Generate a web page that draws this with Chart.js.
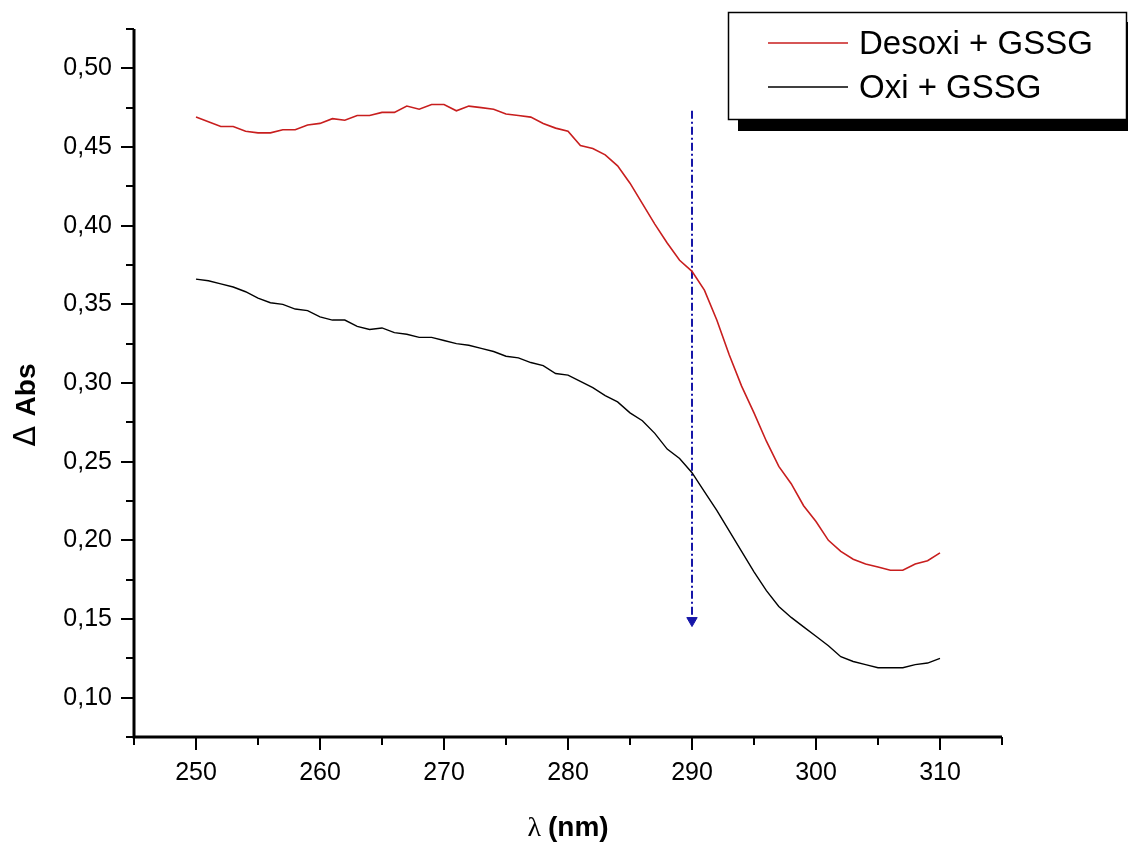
<!DOCTYPE html>
<html>
<head>
<meta charset="utf-8">
<script src="https://cdn.jsdelivr.net/npm/chart.js@4/dist/chart.umd.min.js"></script>
<style>
  html, body { margin: 0; padding: 0; background: #fff; }
</style>
</head>
<body>
<canvas id="chart" width="1128" height="843"></canvas>
<script>
// wavelength (nm)
const wavelengths = [
  250, 251, 252, 253, 254, 255, 256, 257, 258, 259,
  260, 261, 262, 263, 264, 265, 266, 267, 268, 269,
  270, 271, 272, 273, 274, 275, 276, 277, 278, 279,
  280, 281, 282, 283, 284, 285, 286, 287, 288, 289,
  290, 291, 292, 293, 294, 295, 296, 297, 298, 299,
  300, 301, 302, 303, 304, 305, 306, 307, 308, 309, 310,
];

// Desoxi + GSSG (red)
const desoxiGSSG = [
  0.469, 0.466, 0.463, 0.463, 0.460, 0.459, 0.459, 0.461, 0.461, 0.464,
  0.465, 0.468, 0.467, 0.470, 0.470, 0.472, 0.472, 0.476, 0.474, 0.477,
  0.477, 0.473, 0.476, 0.475, 0.474, 0.471, 0.470, 0.469, 0.465, 0.462,
  0.460, 0.451, 0.449, 0.445, 0.438, 0.427, 0.414, 0.401, 0.389, 0.378,
  0.371, 0.359, 0.340, 0.318, 0.298, 0.281, 0.263, 0.247, 0.236, 0.222,
  0.212, 0.200, 0.193, 0.188, 0.185, 0.183, 0.181, 0.181, 0.185, 0.187, 0.192,
];

// Oxi + GSSG (black)
const oxiGSSG = [
  0.366, 0.365, 0.363, 0.361, 0.358, 0.354, 0.351, 0.350, 0.347, 0.346,
  0.342, 0.340, 0.340, 0.336, 0.334, 0.335, 0.332, 0.331, 0.329, 0.329,
  0.327, 0.325, 0.324, 0.322, 0.320, 0.317, 0.316, 0.313, 0.311, 0.306,
  0.305, 0.301, 0.297, 0.292, 0.288, 0.281, 0.276, 0.268, 0.258, 0.252,
  0.243, 0.231, 0.219, 0.206, 0.193, 0.180, 0.168, 0.158, 0.151, 0.145,
  0.139, 0.133, 0.126, 0.123, 0.121, 0.119, 0.119, 0.119, 0.121, 0.122, 0.125,
];

// dash-dot arrow at 290 nm
const arrowX = [290, 290];
const arrowY = [0.473, 0.149];

const xTicks = [250, 260, 270, 280, 290, 300, 310];
const xMinorTicks = [245, 255, 265, 275, 285, 295, 305, 315];
const yTicks = [0.10, 0.15, 0.20, 0.25, 0.30, 0.35, 0.40, 0.45, 0.50];
const yMinorTicks = [0.075, 0.125, 0.175, 0.225, 0.275, 0.325, 0.375, 0.425, 0.475, 0.525];

const legendItems = [
  { label: "Desoxi + GSSG", color: "#c81e1e" },
  { label: "Oxi + GSSG", color: "#000000" },
];

const toPoints = (xs, ys) => xs.map((x, i) => ({ x: x, y: ys[i] }));

// draws two text pieces (normal + bold) centred on 0
function mixedTitle(ctx, first, firstFont, second, secondFont) {
  ctx.font = firstFont;
  const w1 = ctx.measureText(first).width;
  ctx.font = secondFont;
  const w2 = ctx.measureText(second).width;
  const start = -(w1 + w2) / 2;
  ctx.font = firstFont;
  ctx.fillText(first, start, 0);
  ctx.font = secondFont;
  ctx.fillText(second, start + w1, 0);
}

// axes, ticks, titles and the boxed legend are drawn by hand
const decorations = {
  id: "decorations",
  afterDraw(chart) {
    const ctx = chart.ctx;
    const xs = chart.scales.x;
    const ys = chart.scales.y;
    const area = chart.chartArea;

    ctx.save();
    ctx.strokeStyle = "#000";
    ctx.lineCap = "butt";

    // axis lines
    ctx.lineWidth = 3;
    ctx.beginPath();
    ctx.moveTo(area.left, area.top);
    ctx.lineTo(area.left, area.bottom);
    ctx.lineTo(area.right, area.bottom);
    ctx.stroke();

    ctx.lineWidth = 2;
    ctx.beginPath();
    xTicks.forEach((v) => {
      const px = Math.round(xs.getPixelForValue(v));
      ctx.moveTo(px, area.bottom);
      ctx.lineTo(px, area.bottom + 13);
    });
    xMinorTicks.forEach((v) => {
      const px = Math.round(xs.getPixelForValue(v));
      ctx.moveTo(px, area.bottom);
      ctx.lineTo(px, area.bottom + 8);
    });
    yTicks.forEach((v) => {
      const py = Math.round(ys.getPixelForValue(v));
      ctx.moveTo(area.left, py);
      ctx.lineTo(area.left - 13, py);
    });
    yMinorTicks.forEach((v) => {
      const py = Math.round(ys.getPixelForValue(v));
      ctx.moveTo(area.left, py);
      ctx.lineTo(area.left - 8, py);
    });
    ctx.stroke();

    ctx.fillStyle = "#000";
    ctx.textBaseline = "alphabetic";
    ctx.textAlign = "left";

    // x title: "λ (nm)"
    ctx.save();
    ctx.translate(568, 836);
    mixedTitle(ctx, "λ ", "28px 'Liberation Serif'", "(nm)", "bold 28px 'Liberation Sans'");
    ctx.restore();

    // y title: "Δ Abs"
    ctx.save();
    ctx.translate(35, 405);
    ctx.rotate(-Math.PI / 2);
    mixedTitle(ctx, "Δ ", "30px 'DejaVu Sans'", "Abs", "bold 28px 'Liberation Sans'");
    ctx.restore();

    // legend box with drop shadow
    ctx.fillStyle = "#000";
    ctx.fillRect(738, 22, 400, 109);
    ctx.fillStyle = "#fff";
    ctx.fillRect(728, 12, 399, 108);
    ctx.lineWidth = 1.5;
    ctx.strokeStyle = "#000";
    ctx.strokeRect(728.5, 12.5, 398, 107);

    ctx.font = "33px 'Liberation Sans'";
    ctx.textBaseline = "middle";
    legendItems.forEach((item, i) => {
      const ly = 43 + i * 44;
      ctx.strokeStyle = item.color;
      ctx.lineWidth = 1.5;
      ctx.beginPath();
      ctx.moveTo(768, ly);
      ctx.lineTo(848, ly);
      ctx.stroke();
      ctx.fillStyle = "#000";
      ctx.fillText(item.label, 859, ly + 2);
    });

    ctx.restore();
  },
};

const tickFont = { family: "'Liberation Sans', Arial, sans-serif", size: 25 };

new Chart(document.getElementById("chart").getContext("2d"), {
  type: "line",
  data: {
    datasets: [
      {
        label: "Desoxi + GSSG",
        data: toPoints(wavelengths, desoxiGSSG),
        borderColor: "#c81e1e",
        borderWidth: 1.6,
        pointRadius: 0,
        tension: 0,
      },
      {
        label: "Oxi + GSSG",
        data: toPoints(wavelengths, oxiGSSG),
        borderColor: "#000000",
        borderWidth: 1.4,
        pointRadius: 0,
        tension: 0,
      },
      {
        label: "arrow",
        data: toPoints(arrowX, arrowY),
        borderColor: "#1616a8",
        backgroundColor: "#1616a8",
        borderWidth: 2,
        borderDash: [8, 3, 2, 3],
        pointStyle: "triangle",
        rotation: 180,
        pointRadius: [0, 6],
        pointBorderWidth: 1,
        tension: 0,
      },
    ],
  },
  options: {
    responsive: false,
    animation: false,
    devicePixelRatio: 1,
    layout: { padding: { top: 29, right: 126, left: 0, bottom: 0 } },
    plugins: {
      legend: { display: false },
      tooltip: { enabled: false },
    },
    scales: {
      x: {
        type: "linear",
        min: 245,
        max: 315,
        grid: { display: false },
        border: { display: false },
        afterBuildTicks: (s) => { s.ticks = xTicks.map((v) => ({ value: v })); },
        afterFit: (s) => {
          s.height = 106;
          s.paddingLeft = 0;
          s.paddingRight = 0;
        },
        ticks: {
          autoSkip: false,
          maxRotation: 0,
          padding: 13,
          color: "#000",
          font: tickFont,
        },
      },
      y: {
        type: "linear",
        min: 0.075,
        max: 0.525,
        grid: { display: false },
        border: { display: false },
        afterBuildTicks: (s) => { s.ticks = yTicks.map((v) => ({ value: v })); },
        afterFit: (s) => {
          s.width = 134;
          s.paddingTop = 0;
          s.paddingBottom = 0;
        },
        ticks: {
          padding: 14,
          color: "#000",
          font: tickFont,
          callback: (v) => v.toFixed(2).replace(".", ","),
        },
      },
    },
  },
  plugins: [decorations],
});
</script>
</body>
</html>
